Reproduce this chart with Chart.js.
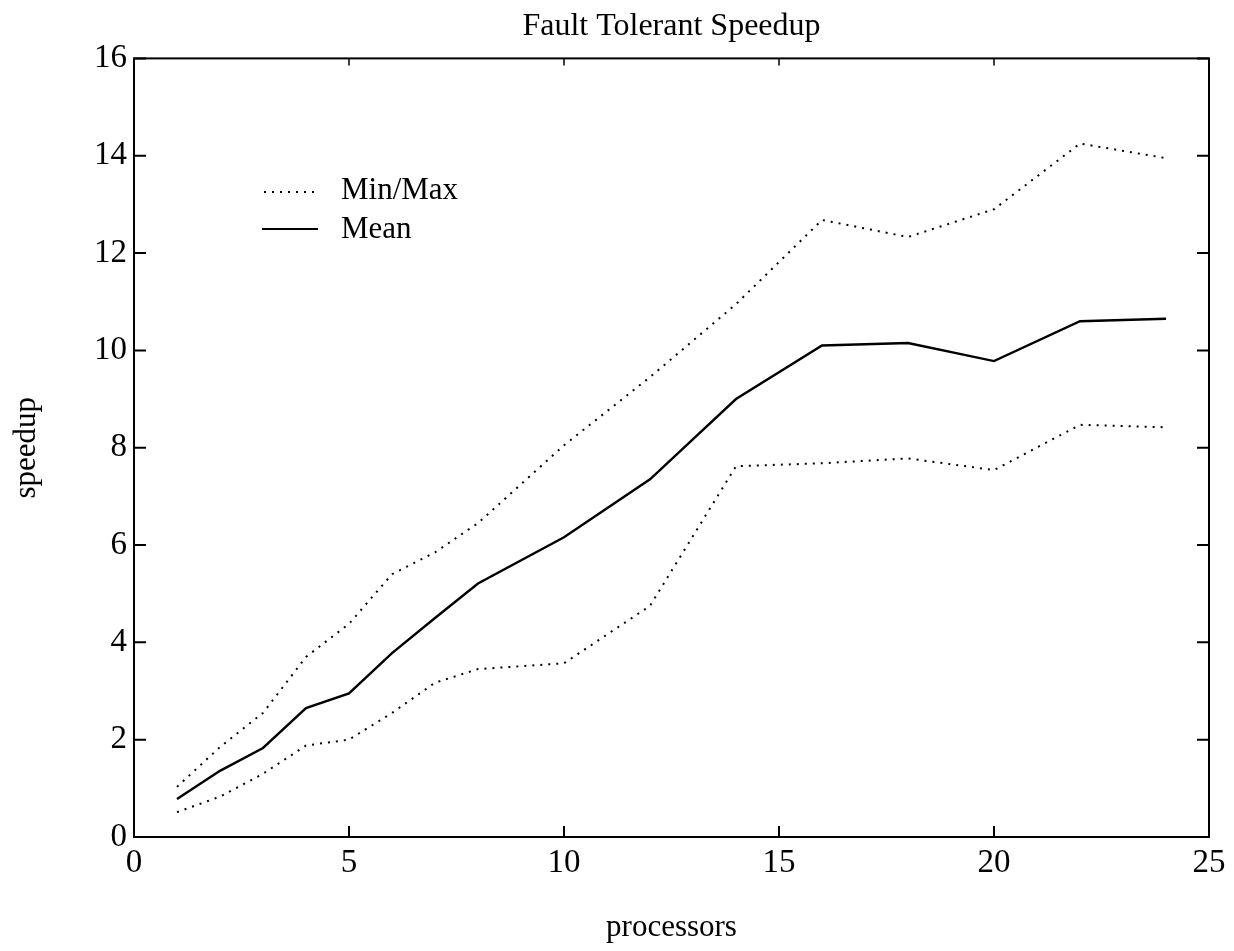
<!DOCTYPE html>
<html>
<head>
<meta charset="utf-8">
<script src="https://cdn.jsdelivr.net/npm/chart.js@4"></script>
<style>
  html, body { margin: 0; padding: 0; background: #fff; }
  #wrap { width: 1234px; height: 951px; }
</style>
</head>
<body>
<div id="wrap"><canvas id="chart-speedup"></canvas></div>
<script>
// Data
var processors = [1, 2, 3, 4, 5, 6, 7, 8, 10, 12, 14, 16, 18, 20, 22, 24];
var maxSpeedup = [1.03, 1.85, 2.55, 3.7, 4.38, 5.4, 5.85, 6.45, 8.05, 9.45, 10.95, 12.68, 12.33, 12.9, 14.25, 13.95];
var meanSpeedup = [0.78, 1.36, 1.83, 2.65, 2.95, 3.78, 4.5, 5.21, 6.16, 7.35, 9.0, 10.1, 10.15, 9.78, 10.6, 10.65];
var minSpeedup = [0.51, 0.83, 1.3, 1.88, 2.0, 2.55, 3.17, 3.45, 3.57, 4.75, 7.62, 7.68, 7.78, 7.54, 8.47, 8.42];
var xTicks = [0, 5, 10, 15, 20, 25];
var yTicks = [0, 2, 4, 6, 8, 10, 12, 14, 16];

var FONT = "'Liberation Serif', 'Times New Roman', serif";

function points(ys) {
  return processors.map(function(x, i) { return { x: x, y: ys[i] }; });
}

// frame, inward ticks and the in-plot legend
var framePlugin = {
  id: 'frame',
  afterDraw: function(chart) {
    var ctx = chart.ctx, a = chart.chartArea;
    var xs = chart.scales.x, ys = chart.scales.y;
    ctx.save();
    ctx.strokeStyle = '#000';
    ctx.lineWidth = 2;
    ctx.strokeRect(a.left, a.top, a.right - a.left, a.bottom - a.top);

    ctx.beginPath();
    yTicks.forEach(function(v) {
      var py = ys.getPixelForValue(v);
      ctx.moveTo(a.left, py); ctx.lineTo(a.left + 12, py);
      ctx.moveTo(a.right, py); ctx.lineTo(a.right - 12, py);
    });
    xTicks.forEach(function(v) {
      var px = xs.getPixelForValue(v);
      ctx.moveTo(px, a.bottom); ctx.lineTo(px, a.bottom - 11);
    });
    ctx.stroke();

    // top ticks are fainter/shorter in the original
    ctx.lineWidth = 1.5;
    ctx.beginPath();
    xTicks.forEach(function(v) {
      var px = xs.getPixelForValue(v);
      ctx.moveTo(px, a.top); ctx.lineTo(px, a.top + 7);
    });
    ctx.stroke();

    // legend
    ctx.lineWidth = 2;
    ctx.setLineDash([2, 6]);
    ctx.beginPath(); ctx.moveTo(264, 192); ctx.lineTo(320, 192); ctx.stroke();
    ctx.setLineDash([]);
    ctx.lineWidth = 2.2;
    ctx.beginPath(); ctx.moveTo(262, 229); ctx.lineTo(318, 229); ctx.stroke();
    ctx.fillStyle = '#000';
    ctx.font = '31px ' + FONT;
    ctx.textAlign = 'left';
    ctx.textBaseline = 'alphabetic';
    ctx.fillText('Min/Max', 341, 199);
    ctx.fillText('Mean', 341, 238);
    ctx.restore();
  }
};

var dotted = {
  borderColor: '#000',
  borderWidth: 2,
  borderDash: [2, 6],
  pointRadius: 0,
  fill: false,
  tension: 0
};

var speedupChart = new Chart(document.getElementById('chart-speedup').getContext('2d'), {
  type: 'line',
  data: {
    datasets: [
      Object.assign({ label: 'Max', data: points(maxSpeedup) }, dotted),
      { label: 'Mean', data: points(meanSpeedup), borderColor: '#000', borderWidth: 2.4, pointRadius: 0, fill: false, tension: 0 },
      Object.assign({ label: 'Min', data: points(minSpeedup) }, dotted)
    ]
  },
  options: {
    responsive: true,
    maintainAspectRatio: false,
    animation: false,
    layout: { padding: { top: 0, right: 25, bottom: 0, left: 0 } },
    plugins: {
      legend: { display: false },
      tooltip: { enabled: false },
      title: {
        display: true,
        fullSize: false,
        text: 'Fault Tolerant Speedup',
        color: '#000',
        font: { family: FONT, size: 32, weight: 'normal' },
        padding: { top: 7, bottom: 13 }
      }
    },
    scales: {
      x: {
        type: 'linear',
        min: 0,
        max: 25,
        grid: { display: false, drawTicks: false },
        border: { display: false },
        ticks: { stepSize: 5, color: '#000', padding: 7, font: { family: FONT, size: 33 } },
        title: { display: true, text: 'processors', color: '#000', font: { family: FONT, size: 31 }, padding: { top: 0, bottom: 5 } },
        afterFit: function(s) { s.height = 114; }
      },
      y: {
        min: 0,
        max: 16,
        grid: { display: false, drawTicks: false },
        border: { display: false },
        ticks: { stepSize: 2, color: '#000', padding: 7, font: { family: FONT, size: 33 } },
        title: { display: true, text: 'speedup', color: '#000', font: { family: FONT, size: 31 }, padding: { top: 8, bottom: 0 } },
        afterFit: function(s) { s.width = 134; }
      }
    }
  },
  plugins: [framePlugin]
});
</script>
</body>
</html>
